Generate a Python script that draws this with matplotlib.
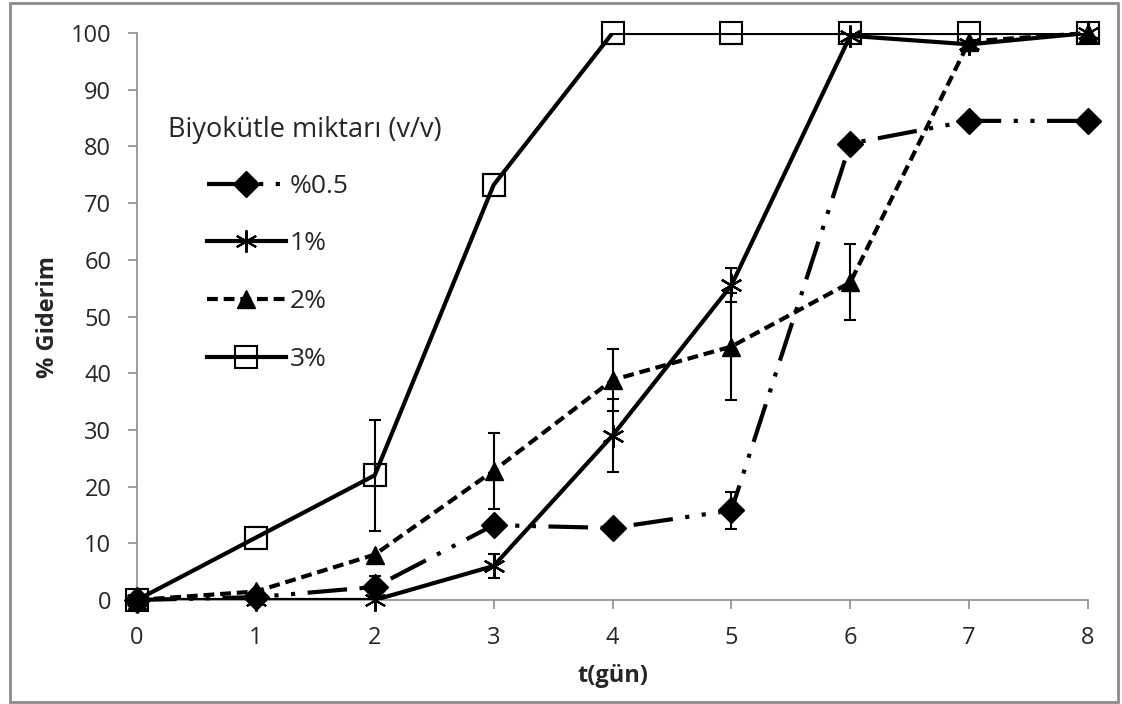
import numpy as np
import matplotlib.pyplot as plt
from matplotlib.patches import Rectangle

plt.rcParams['font.family'] = ['Open Sans', 'DejaVu Sans']

t = [0, 1, 2, 3, 4, 5, 6, 7, 8]
labels = ['%0.5', '1%', '2%', '3%']

y05 = [0, 0.5, 2.3, 13.2, 12.7, 15.8, 80.5, 84.5, 84.5]
e05 = [0, 0, 2.0, 0, 0, 3.2, 0, 0, 0]
y1 = [0, 0, 0, 6.0, 29.0, 55.5, 99.5, 98.0, 100]
e1 = [0, 0, 0, 2.2, 6.5, 3.0, 0, 0, 0]
y2 = [0, 1.5, 8.0, 22.8, 38.8, 44.7, 56.0, 98.5, 100]
e2 = [0, 0, 0, 6.7, 5.5, 9.5, 6.7, 0, 0]
y3 = [0, 11.0, 22.0, 73.2, 100, 100, 100, 100, 100]
e3 = [0, 0, 9.8, 0, 0, 0, 0, 0, 0]

fig = plt.figure(figsize=(11.22, 7.04), dpi=100)
ax = fig.add_axes([137/1122, 1-600/704, (1088-137)/1122, (600-33)/704])

gray = '#8c8c8c'
txtc = '#262626'
lw = 3

# error bars
for y, e in [(y05, e05), (y1, e1), (y2, e2), (y3, e3)]:
    yy = np.array(y); ee = np.array(e)
    m = ee > 0
    ax.errorbar(np.array(t)[m], yy[m], yerr=ee[m], fmt='none', ecolor='black',
                elinewidth=1.5, capsize=4.5, capthick=1.5, zorder=2, clip_on=False)

s05, = ax.plot(t, y05, color='black', lw=lw, dashes=(9.5, 3, 1, 3, 1, 3),
               marker='D', ms=13, mfc='black', mec='black', zorder=3, clip_on=False)
s1, = ax.plot(t, y1, color='black', lw=lw, marker=(6, 2, 0), ms=16, mew=1.5,
              mec='black', zorder=3)
ax.plot(t, y1, ls='none', marker=(6, 2, 0), ms=16, mew=1.5, mec='black',
        zorder=3, clip_on=False)
s2, = ax.plot(t, y2, color='black', lw=lw, dashes=(2.6, 1.4), marker='^', ms=13,
              mfc='black', mec='black', zorder=3, clip_on=False)
s3, = ax.plot(t, y3, color='black', lw=lw, marker='s', ms=15.5, mfc='none',
              mec='black', mew=1.5, zorder=4)
ax.plot(t, y3, ls='none', marker='s', ms=15.5, mfc='none', mec='black', mew=1.5,
        zorder=4, clip_on=False)

ax.set_xlim(0, 8)
ax.set_ylim(0, 100)
ax.set_xticks(range(0, 9))
ax.set_yticks(range(0, 101, 10))
for s in ['top', 'right']:
    ax.spines[s].set_visible(False)
for s in ['left', 'bottom']:
    ax.spines[s].set_color(gray)
    ax.spines[s].set_linewidth(1.2)
ax.tick_params(colors=gray, labelcolor=txtc, labelsize=17, length=6.5, width=1.2, pad=12)
ax.set_xlabel('t(gün)', fontsize=17, fontweight='bold', color=txtc, labelpad=10)
ax.set_ylabel('% Giderim', fontsize=17, fontweight='bold', color=txtc, labelpad=8)

ax.text(168/1122, 1-130/704, 'Biyokütle miktarı (v/v)', transform=fig.transFigure,
        fontsize=19.5, color=txtc, va='center', ha='left')
leg = ax.legend([s05, s1, s2, s3], labels, loc='upper left',
                bbox_to_anchor=(183/1122, 1-150/704), bbox_transform=fig.transFigure,
                frameon=False, fontsize=19, handlelength=3.0, labelspacing=1.24,
                handletextpad=0.15, markerscale=1.0)
for txt in leg.get_texts():
    txt.set_color(txtc)

fig.patches.append(Rectangle((10/1122, 2/704), 1108/1122, 699/704, transform=fig.transFigure,
                             fill=False, edgecolor=gray, lw=2))

plt.savefig('out.png', dpi=100)
